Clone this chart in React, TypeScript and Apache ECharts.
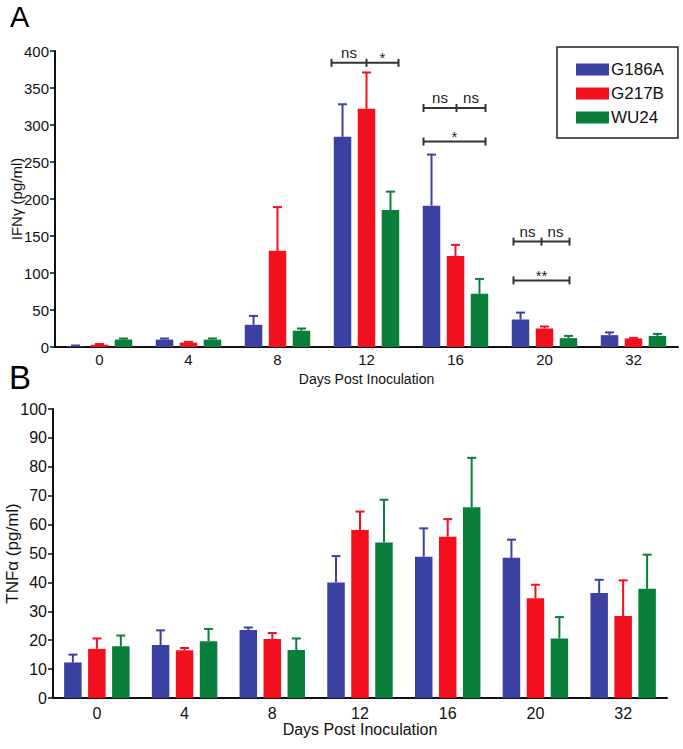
import React, { useEffect, useRef } from 'react';
import * as echarts from 'echarts';

// ---------- data ----------
const DAYS = ['0', '4', '8', '12', '16', '20', '32'];
const STRAINS = ['G186A', 'G217B', 'WU24'];

// Panel A: IFN-gamma (pg/ml), mean and SEM
const IFN_G186A = [1, 10, 30, 284, 191, 37, 16];
const IFN_G186A_SEM = [1, 1.5, 12, 44, 69, 9.5, 3.7];
const IFN_G217B = [3, 6, 130, 322, 123, 25, 11.5];
const IFN_G217B_SEM = [1, 1, 59, 49, 15, 2.7, 0.8];
const IFN_WU24 = [10, 10, 22, 185, 72, 12, 15];
const IFN_WU24_SEM = [1.5, 1.5, 3, 25, 20, 3, 2.7];

// Panel B: TNF-alpha (pg/ml), mean and SEM
const TNF_G186A = [12.3, 18.3, 23.5, 40, 48.9, 48.5, 36.3];
const TNF_G186A_SEM = [2.7, 5.1, 0.9, 9.1, 9.8, 6.3, 4.6];
const TNF_G217B = [17, 16.5, 20.4, 58.1, 55.8, 34.5, 28.4];
const TNF_G217B_SEM = [3.6, 0.8, 2.1, 6.4, 6.1, 4.7, 12.3];
const TNF_WU24 = [17.9, 19.6, 16.6, 53.8, 66, 20.6, 37.8];
const TNF_WU24_SEM = [3.7, 4.3, 4.0, 14.8, 17.1, 7.4, 11.8];

// Significance brackets (panel A)
const SIG_DAY_INDEX = [3, 4, 4, 5, 5];
const SIG_LEVEL = [384, 323, 277.6, 142.4, 90];
const SIG_LABELS = [['ns', '*'], ['ns', 'ns'], ['*'], ['ns', 'ns'], ['**']];

// ---------- style / layout ----------
const COLORS = ['#3a41a0', '#f2101e', '#0a7f3b'];
const FONT = '"Liberation Sans", Arial, Helvetica, sans-serif';
const TEXT = '#111';
const BAR_W = 17.5;
const BAR_GAP = 0.37;
const SLOT = BAR_W * (1 + BAR_GAP);
// bracket horizontal spans (px relative to category centre): [left, mid, right]
const SIG_SPAN = [
  [-35, 0, 32],
  [-32, 1, 30],
  [-32, 1, 30],
  [-31, -3, 25],
  [-31, -3, 25],
];

export default function App() {
  const ref = useRef<HTMLDivElement>(null);

  useEffect(() => {
    document.body.style.margin = '0';
    const chart = echarts.init(ref.current!, null, { renderer: 'svg' });

    const meansA = [IFN_G186A, IFN_G217B, IFN_WU24];
    const semsA = [IFN_G186A_SEM, IFN_G217B_SEM, IFN_WU24_SEM];
    const meansB = [TNF_G186A, TNF_G217B, TNF_WU24];
    const semsB = [TNF_G186A_SEM, TNF_G217B_SEM, TNF_WU24_SEM];

    const barSeries = (means: number[][], gi: number) =>
      means.map((vals, s) => ({
        type: 'bar',
        name: STRAINS[s],
        xAxisIndex: gi,
        yAxisIndex: gi,
        data: vals,
        barWidth: BAR_W,
        barGap: `${BAR_GAP * 100}%`,
        itemStyle: { color: COLORS[s] },
        z: 2,
      }));

    const errSeries = (means: number[][], sems: number[][], gi: number) =>
      means.map((vals, s) => ({
        type: 'custom',
        name: `${STRAINS[s]}-err-${gi}`,
        xAxisIndex: gi,
        yAxisIndex: gi,
        z: 3,
        encode: { x: 0, y: 1 },
        data: vals.map((v, i) => [i, v, v + sems[s][i]]),
        renderItem: (params: any, api: any) => {
          const base = api.coord([api.value(0), api.value(1)]);
          const top = api.coord([api.value(0), api.value(2)]);
          const x = base[0] + (s - 1) * SLOT;
          const style = { stroke: COLORS[s], lineWidth: 2 };
          return {
            type: 'group',
            children: [
              { type: 'line', shape: { x1: x, y1: base[1], x2: x, y2: top[1] }, style },
              { type: 'line', shape: { x1: x - 4.5, y1: top[1], x2: x + 4.5, y2: top[1] }, style },
            ],
          };
        },
      }));

    const sigSeries = {
      type: 'custom',
      name: 'significance',
      xAxisIndex: 0,
      yAxisIndex: 0,
      z: 4,
      encode: { x: 0, y: 1 },
      data: SIG_DAY_INDEX.map((d, i) => [d, SIG_LEVEL[i]]),
      renderItem: (params: any, api: any) => {
        const idx = params.dataIndex;
        const p = api.coord([api.value(0), api.value(1)]);
        const [l, m, r] = SIG_SPAN[idx];
        const cx = p[0];
        const y = p[1];
        const labels = SIG_LABELS[idx];
        const stroke = { stroke: '#333', lineWidth: 2 };
        const children: any[] = [
          { type: 'line', shape: { x1: cx + l, y1: y, x2: cx + r, y2: y }, style: stroke },
          { type: 'line', shape: { x1: cx + l, y1: y - 4, x2: cx + l, y2: y + 4 }, style: stroke },
          { type: 'line', shape: { x1: cx + r, y1: y - 4, x2: cx + r, y2: y + 4 }, style: stroke },
        ];
        const mk = (txt: string, x: number) => ({
          type: 'text',
          style: {
            text: txt,
            x,
            y: txt.includes('*') ? y - 5 : y - 10,
            align: 'center',
            verticalAlign: 'middle',
            fontSize: 15,
            fontFamily: FONT,
            fill: '#222',
          },
        });
        if (labels.length === 2) {
          children.push({ type: 'line', shape: { x1: cx + m, y1: y - 4, x2: cx + m, y2: y + 4 }, style: stroke });
          children.push(mk(labels[0], cx + (l + m) / 2));
          children.push(mk(labels[1], cx + (m + r) / 2));
        } else {
          children.push(mk(labels[0], cx + (l + r) / 2));
        }
        return { type: 'group', children };
      },
    };

    const xAxis = (gi: number, fs: number, nameFs: number, gap: number, margin: number) => ({
      type: 'category',
      gridIndex: gi,
      data: DAYS,
      boundaryGap: true,
      axisLine: { lineStyle: { color: TEXT, width: 2 } },
      axisTick: { alignWithLabel: true, length: 5, lineStyle: { color: TEXT, width: 1.5 } },
      axisLabel: { fontSize: fs, color: TEXT, fontFamily: FONT, margin },
      name: 'Days Post Inoculation',
      nameLocation: 'middle',
      nameGap: gap,
      nameTextStyle: { fontSize: nameFs, color: TEXT, fontFamily: FONT },
    });

    const yAxis = (gi: number, max: number, interval: number, name: string, fs: number, nameFs: number, gap: number) => ({
      type: 'value',
      gridIndex: gi,
      min: 0,
      max,
      interval,
      axisLine: { show: true, lineStyle: { color: TEXT, width: 2 } },
      axisTick: { show: true, length: 5, lineStyle: { color: TEXT, width: 1.5 } },
      axisLabel: { fontSize: fs, color: TEXT, fontFamily: FONT, margin: 6 },
      splitLine: { show: false },
      name,
      nameLocation: 'middle',
      nameGap: gap,
      nameMoveOverlap: false,
      nameTextStyle: { fontSize: nameFs, color: TEXT, fontFamily: FONT },
    });

    const option: any = {
      animation: false,
      backgroundColor: '#fff',
      textStyle: { fontFamily: FONT },
      grid: [
        { left: 55, top: 51, width: 623, height: 296, outerBoundsMode: 'none', containLabel: false },
        { left: 53, top: 409, width: 614, height: 289, outerBoundsMode: 'none', containLabel: false },
      ],
      xAxis: [xAxis(0, 15, 14, 25, 5), xAxis(1, 16, 16, 20, 7)],
      yAxis: [
        yAxis(0, 400, 50, 'IFNγ (pg/ml)', 15, 15, 31),
        yAxis(1, 100, 10, 'TNFα (pg/ml)', 16, 17, 32),
      ],
      legend: {
        data: STRAINS,
        orient: 'vertical',
        left: 557,
        top: 47,
        itemWidth: 33,
        itemHeight: 12,
        itemGap: 7,
        icon: 'rect',
        selectedMode: false,
        borderColor: '#222',
        borderWidth: 1.5,
        padding: [14, 14, 12, 19],
        textStyle: { fontSize: 17, color: TEXT, fontFamily: FONT, padding: [0, 0, 0, -3] },
      },
      graphic: [
        {
          type: 'text',
          left: 10,
          top: 2,
          style: { text: 'A', fontSize: 29, fontFamily: FONT, fill: '#000' },
        },
        {
          type: 'text',
          left: 9,
          top: 361,
          style: { text: 'B', fontSize: 33, fontFamily: FONT, fill: '#000' },
        },
      ],
      series: [
        ...barSeries(meansA, 0),
        ...barSeries(meansB, 1),
        ...errSeries(meansA, semsA, 0),
        ...errSeries(meansB, semsB, 1),
        sigSeries,
      ],
    };

    chart.setOption(option);
    return () => chart.dispose();
  }, []);

  return <div ref={ref} style={{ width: 683, height: 749 }} />;
}
